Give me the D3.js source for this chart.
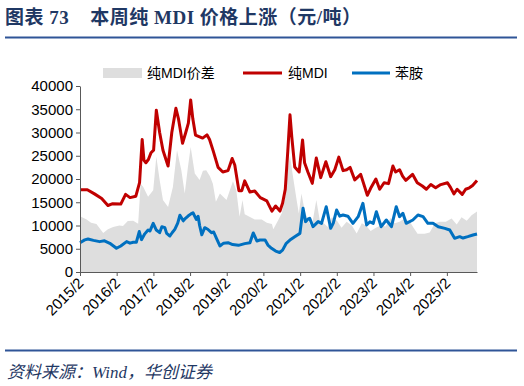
<!DOCTYPE html>
<html>
<head>
<meta charset="utf-8">
<script src="https://cdn.jsdelivr.net/npm/d3@7"></script>
<style>
  body { margin: 0; background: #fff; }
  text { font-family: "Liberation Sans", Arial, "Noto Sans CJK SC", sans-serif; }
</style>
</head>
<body>
<script>

// 纯MDI 价格 (元/吨)
var mdi = [
  ["2015-02-01",17700],["2015-04-15",17700],["2015-06-25",16800],["2015-09-05",15800],["2015-11-06",14300],
  ["2015-12-24",14700],["2016-03-13",14600],["2016-04-30",16700],["2016-06-13",16000],["2016-08-10",16300],
  ["2016-09-16",19200],["2016-10-12",28500],["2016-10-30",24000],["2016-11-18",23500],["2016-12-13",24200],
  ["2017-01-08",25650],["2017-02-03",26200],["2017-03-02",34800],["2017-04-04",30000],["2017-05-07",26200],
  ["2017-06-27",22800],["2017-08-03",30000],["2017-09-13",35200],["2017-10-08",33000],["2017-11-18",27700],
  ["2017-12-20",30000],["2018-01-15",32000],["2018-02-07",37000],["2018-02-28",33000],["2018-03-27",29450],
  ["2018-06-06",28800],["2018-07-19",29500],["2018-08-14",28500],["2018-09-20",26000],["2018-11-07",22500],
  ["2018-12-24",21500],["2019-02-14",21800],["2019-03-27",24400],["2019-04-22",23000],["2019-06-02",17500],
  ["2019-07-01",17500],["2019-07-30",19600],["2019-09-20",17200],["2019-11-07",17400],["2020-01-01",16000],
  ["2020-03-06",15300],["2020-04-26",13100],["2020-06-02",14200],["2020-07-15",13100],["2020-08-10",14800],
  ["2020-09-06",17800],["2020-10-01",26000],["2020-10-23",33800],["2020-11-10",29000],["2020-12-09",22600],
  ["2021-01-22",21500],["2021-02-25",28400],["2021-03-17",23500],["2021-04-19",21500],["2021-06-02",19070],
  ["2021-07-12",24500],["2021-08-25",20300],["2021-10-15",23700],["2021-12-02",20500],["2022-01-12",22000],
  ["2022-02-21",24700],["2022-04-04",21800],["2022-05-10",22000],["2022-06-13",22500],["2022-07-30",19800],
  ["2022-09-27",21000],["2022-12-02",16500],["2023-01-04",18000],["2023-02-25",20000],["2023-04-04",17800],
  ["2023-05-18",19200],["2023-07-01",19000],["2023-08-14",22800],["2023-09-09",21500],["2023-10-19",22000],
  ["2023-11-18",20600],["2023-12-20",19700],["2024-02-25",21000],["2024-04-12",19200],["2024-06-02",18500],
  ["2024-07-12",17800],["2024-08-25",18800],["2024-10-12",18100],["2024-12-02",18800],["2025-02-07",19200],
  ["2025-03-09",18200],["2025-04-12",16800],["2025-05-14",17800],["2025-07-04",16700],["2025-08-07",17800],
  ["2025-09-13",18100],["2025-10-15",18600],["2025-11-28",19700]
]

// 苯胺 价格 (元/吨)
var aniline = [
  ["2015-02-01",6300],["2015-03-20",6900],["2015-04-22",7100],["2015-06-15",6800],["2015-08-15",6530],
  ["2015-10-03",6700],["2015-11-25",6170],["2016-01-30",5100],["2016-03-13",5600],["2016-05-10",6530],
  ["2016-06-13",6200],["2016-07-15",6400],["2016-08-15",6400],["2016-09-13",8700],["2016-10-05",6960],
  ["2016-11-07",8200],["2016-12-10",9030],["2016-12-28",8800],["2017-01-30",10470],["2017-03-02",9030],
  ["2017-04-04",8450],["2017-04-26",9740],["2017-05-26",9530],["2017-06-13",8310],["2017-07-15",7740],
  ["2017-08-08",8500],["2017-09-02",9170],["2017-10-01",10500],["2017-10-23",12200],["2017-11-25",11000],
  ["2017-12-20",11600],["2018-01-12",12040],["2018-02-10",12500],["2018-03-02",12750],["2018-04-04",11320],
  ["2018-04-22",12000],["2018-05-07",10000],["2018-05-29",8000],["2018-06-27",9530],["2018-07-27",9200],
  ["2018-09-02",8450],["2018-09-24",8600],["2018-10-23",7200],["2018-11-25",5600],["2019-01-01",6200],
  ["2019-02-14",6300],["2019-04-01",5900],["2019-05-29",5730],["2019-07-30",6100],["2019-09-20",6300],
  ["2019-10-23",8400],["2019-11-28",6670],["2019-12-28",6880],["2020-02-18",6880],["2020-03-17",5800],
  ["2020-04-22",5100],["2020-06-02",4500],["2020-07-12",4200],["2020-08-10",4700],["2020-09-16",6170],
  ["2020-10-30",7000],["2020-12-09",7600],["2021-01-30",8310],["2021-03-02",13700],["2021-03-27",10830],
  ["2021-04-22",11400],["2021-05-07",11540],["2021-06-09",9740],["2021-07-05",10300],["2021-07-30",10830],
  ["2021-09-02",10470],["2021-10-19",14040],["2021-12-02",9390],["2021-12-28",10500],["2022-01-30",13330],
  ["2022-03-02",12000],["2022-04-04",12260],["2022-05-22",12000],["2022-07-12",10470],["2022-09-02",11900],
  ["2022-10-19",14770],["2022-11-25",10110],["2022-12-28",10800],["2023-01-30",10470],["2023-03-02",12970],
  ["2023-04-19",9740],["2023-06-09",11180],["2023-07-30",9740],["2023-09-16",14040],["2023-10-19",11900],
  ["2023-11-21",12620],["2023-12-24",10470],["2024-02-28",11180],["2024-04-19",12260],["2024-06-09",11900],
  ["2024-07-27",10470],["2024-09-16",10500],["2024-11-07",9740],["2025-01-12",9390],["2025-03-02",9030],
  ["2025-04-19",7240],["2025-06-09",7600],["2025-07-12",7300],["2025-08-28",7600],["2025-10-19",7960],
  ["2025-11-28",8170]
]

// 纯MDI价差 (元/吨)
var spread = [
  ["2015-02-01",12000],["2015-04-08",11300],["2015-05-22",10600],["2015-07-15",10300],["2015-09-20",8400],
  ["2015-11-06",9200],["2015-12-28",9700],["2016-02-28",10000],["2016-04-04",9900],["2016-05-22",10960],
  ["2016-07-15",11000],["2016-09-02",10400],["2016-09-27",19000],["2016-10-23",18300],["2016-12-10",16200],
  ["2017-01-30",17600],["2017-03-02",24800],["2017-04-04",19800],["2017-05-07",15500],["2017-06-27",14000],
  ["2017-08-14",18300],["2017-09-24",26200],["2017-11-06",21900],["2017-12-10",16900],["2018-01-12",22800],
  ["2018-02-07",26900],["2018-03-20",21200],["2018-05-07",19800],["2018-06-09",21800],["2018-07-12",21900],
  ["2018-08-18",20600],["2018-09-16",19000],["2018-10-16",15100],["2018-11-25",16900],["2019-01-30",15500],
  ["2019-04-04",19500],["2019-05-07",17600],["2019-06-09",11900],["2019-07-08",15500],["2019-07-30",12400],
  ["2019-09-06",12000],["2019-11-07",11300],["2020-01-15",11300],["2020-03-06",10600],["2020-04-26",10300],
  ["2020-05-10",9200],["2020-07-01",11300],["2020-08-03",12700],["2020-09-06",16300],["2020-10-01",22000],
  ["2020-10-23",25000],["2020-11-22",20500],["2020-12-28",15500],["2021-01-19",12600],["2021-02-14",16900],
  ["2021-03-17",13300],["2021-04-19",11200],["2021-05-26",9500],["2021-07-12",15500],["2021-08-15",11200],
  ["2021-09-24",10500],["2021-11-03",9700],["2021-12-13",11800],["2022-02-03",11000],["2022-03-20",9500],
  ["2022-05-10",10800],["2022-07-01",10000],["2022-08-18",8300],["2022-10-08",10500],["2022-11-18",10000],
  ["2023-01-04",8800],["2023-02-25",9500],["2023-04-15",10000],["2023-06-02",9800],["2023-07-22",11600],
  ["2023-09-02",10500],["2023-10-19",10800],["2023-12-10",11500],["2024-01-30",10800],["2024-03-06",9500],
  ["2024-04-15",8200],["2024-06-24",8200],["2024-08-14",8500],["2024-10-05",10500],["2024-11-22",10800],
  ["2025-01-22",10800],["2025-03-20",11500],["2025-05-10",10200],["2025-06-27",11800],["2025-08-18",11000],
  ["2025-10-05",12200],["2025-11-28",13000]
]

var xTicks = ["2015/2","2016/2","2017/2","2018/2","2019/2","2020/2","2021/2","2022/2","2023/2","2024/2","2025/2"]
var yTicks = [0,5000,10000,15000,20000,25000,30000,35000,40000]

var width = 524, height = 386
var parse = d3.timeParse("%Y-%m-%d")
var parseTick = d3.timeParse("%Y/%m")

var svg = d3.select("body").append("svg")
            .attr("width", width)
            .attr("height", height)

// title
svg.append("text")
   .attr("x", 5).attr("y", 24)
   .style("font-family", "'Liberation Serif', 'Noto Sans CJK SC', serif")
   .style("font-weight", "bold")
   .style("font-size", "19px")
   .style("letter-spacing", "0.5px")
   .style("fill", "#1F3864")
   .text("图表 73\u00a0\u00a0\u00a0\u00a0本周纯 MDI 价格上涨（元/吨）")

svg.append("line")
   .attr("x1", 5).attr("x2", 517).attr("y1", 37.5).attr("y2", 37.5)
   .style("stroke", "#2F5597").style("stroke-width", 2)

svg.append("line")
   .attr("x1", 5).attr("x2", 517).attr("y1", 350.5).attr("y2", 350.5)
   .style("stroke", "#2F5597").style("stroke-width", 2)

svg.append("text")
   .attr("x", 7).attr("y", 378)
   .style("font-family", "'Liberation Serif', 'Noto Sans CJK SC', serif")
   .style("font-style", "italic")
   .style("font-size", "17px")
   .style("fill", "#1F3864")
   .text("资料来源：Wind，华创证券")

var x = d3.scaleTime()
          .domain([parse("2015-02-01"), parse("2025-11-28")])
          .range([80, 477])
var y = d3.scaleLinear().domain([0, 40000]).range([272, 86])

var area = d3.area()
             .x(function(d){ return x(parse(d[0])) })
             .y0(y(0))
             .y1(function(d){ return y(d[1]) })
var line = d3.line()
             .x(function(d){ return x(parse(d[0])) })
             .y(function(d){ return y(d[1]) })

svg.append("path").datum(spread)
   .attr("d", area)
   .style("fill", "#DEDEDE")

svg.append("path").datum(mdi)
   .attr("d", line)
   .style("fill", "none").style("stroke", "#C00000")
   .style("stroke-width", 3).style("stroke-linejoin", "round")

svg.append("path").datum(aniline)
   .attr("d", line)
   .style("fill", "none").style("stroke", "#0070C0")
   .style("stroke-width", 3).style("stroke-linejoin", "round")

// y axis
var yAxis = svg.append("g")
   .attr("transform", "translate(80,0)")
   .call(d3.axisLeft(y).tickValues(yTicks).tickSize(4).tickSizeOuter(0).tickFormat(d3.format("d")))
yAxis.selectAll("text").style("font-size", "15px").style("fill", "#000").attr("x", -7)
yAxis.selectAll("line, path").style("stroke", "#595959")

// x axis
var xAxis = svg.append("g")
   .attr("transform", "translate(0,272)")
   .call(d3.axisBottom(x).tickValues(xTicks.map(function(t){ return parseTick(t) }))
           .tickSize(4).tickSizeOuter(0)
           .tickFormat(function(d, i){ return xTicks[i] }))
xAxis.selectAll("line, path").style("stroke", "#595959")
xAxis.selectAll("text")
     .style("font-size", "15px").style("fill", "#000")
     .style("text-anchor", "end")
     .attr("dy", null).attr("y", 0).attr("x", 0)
     .attr("transform", "translate(4,12) rotate(-45)")

// legend
var lg = svg.append("g").style("font-size", "14px")
lg.append("rect").attr("x", 103).attr("y", 68).attr("width", 39).attr("height", 10).style("fill", "#DEDEDE")
lg.append("text").attr("x", 147).attr("y", 78).text("纯MDI价差")
lg.append("line").attr("x1", 243).attr("x2", 282).attr("y1", 73).attr("y2", 73)
  .style("stroke", "#C00000").style("stroke-width", 3)
lg.append("text").attr("x", 288).attr("y", 78).text("纯MDI")
lg.append("line").attr("x1", 352).attr("x2", 390).attr("y1", 73).attr("y2", 73)
  .style("stroke", "#0070C0").style("stroke-width", 3)
lg.append("text").attr("x", 395).attr("y", 78).text("苯胺")

</script>
</body>
</html>
